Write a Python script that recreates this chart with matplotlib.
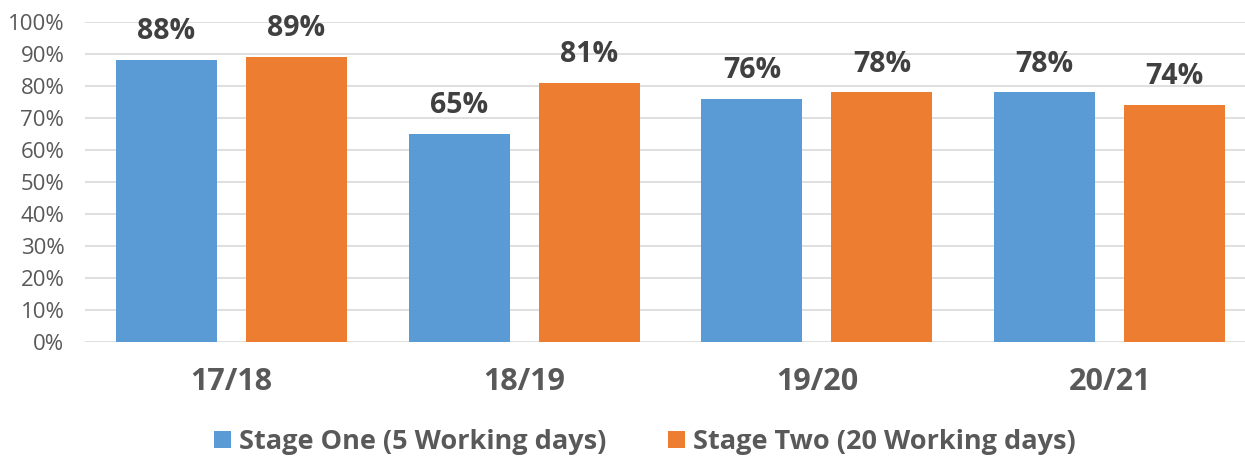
import matplotlib
matplotlib.use("Agg")
import matplotlib.pyplot as plt
import numpy as np

categories = ["17/18", "18/19", "19/20", "20/21"]
stage_one = [88, 65, 76, 78]
stage_two = [89, 81, 78, 74]
series_names = ["Stage One (5 Working days)", "Stage Two (20 Working days)"]
yticks = list(range(0, 101, 10))

plt.rcParams['font.family'] = ['Open Sans', 'DejaVu Sans']

fig = plt.figure(figsize=(12.45, 4.57), dpi=100)
ax = fig.add_axes([0.0684, 0.2516, 0.9404, 0.7003])

x = np.arange(len(categories))
w = 0.345
off = 0.222
b1 = ax.bar(x - off, stage_one, w, color="#5B9BD5", label=series_names[0], zorder=3)
b2 = ax.bar(x + off, stage_two, w, color="#ED7D31", label=series_names[1], zorder=3)

for bars, vals in ((b1, stage_one), (b2, stage_two)):
    for rect, v in zip(bars, vals):
        ax.annotate(f"{v}%", (rect.get_x() + rect.get_width() / 2, v),
                    xytext=(0, 10), textcoords="offset points",
                    ha="center", va="bottom", fontsize=20.5, fontweight="bold",
                    color="#404040")

ax.set_xlim(-0.5, 3.5)
ax.set_ylim(0, 100)
ax.set_yticks(yticks)
ax.set_yticklabels([f"{t}%" for t in yticks], fontsize=16, color="#595959")
ax.set_xticks(x)
ax.set_xticklabels(categories, fontsize=22, fontweight="bold", color="#595959")
ax.tick_params(axis="both", length=0)
ax.tick_params(axis="x", pad=18)
ax.tick_params(axis="y", pad=15)
ax.yaxis.grid(True, color="#D9D9D9", linewidth=1.2, zorder=0)
ax.set_axisbelow(True)
for s in ax.spines.values():
    s.set_visible(False)

leg = fig.legend(handles=[b1, b2], labels=series_names, loc="center",
                 bbox_to_anchor=(0.518, 0.032), ncol=2, frameon=False,
                 handlelength=0.6, handleheight=0.6, handletextpad=0.3,
                 columnspacing=2.3,
                 prop={"size": 19.5, "weight": "bold"})
for t in leg.get_texts():
    t.set_color("#595959")

fig.savefig("out.png", dpi=100)
